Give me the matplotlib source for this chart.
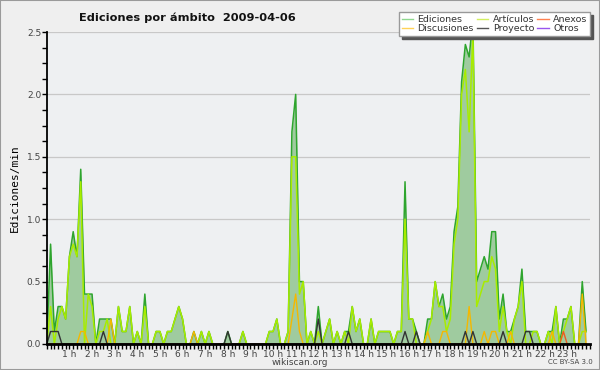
import numpy as np
import matplotlib
matplotlib.use('Agg')
import matplotlib.pyplot as plt
from matplotlib.patches import Rectangle
from matplotlib.lines import Line2D

# edits per minute, one value every 10 minutes (6 per hour)
ediciones = [
    0.0, 0.8, 0.1, 0.3, 0.3, 0.2,
    0.7, 0.9, 0.7, 1.4, 0.4, 0.4,
    0.4, 0.0, 0.2, 0.2, 0.2, 0.2,
    0.0, 0.3, 0.1, 0.1, 0.3, 0.0,
    0.1, 0.0, 0.4, 0.0, 0.0, 0.1,
    0.1, 0.0, 0.1, 0.1, 0.2, 0.3,
    0.2, 0.0, 0.0, 0.1, 0.0, 0.1,
    0.0, 0.1, 0.0, 0.0, 0.0, 0.0,
    0.1, 0.0, 0.0, 0.0, 0.1, 0.0,
    0.0, 0.0, 0.0, 0.0, 0.0, 0.1,
    0.1, 0.2, 0.0, 0.0, 0.1, 1.7,
    2.0, 0.5, 0.5, 0.0, 0.1, 0.0,
    0.3, 0.0, 0.1, 0.2, 0.0, 0.1,
    0.0, 0.1, 0.1, 0.3, 0.1, 0.2,
    0.0, 0.0, 0.2, 0.0, 0.1, 0.1,
    0.1, 0.1, 0.0, 0.1, 0.1, 1.3,
    0.2, 0.2, 0.1, 0.0, 0.0, 0.2,
    0.2, 0.5, 0.3, 0.4, 0.2, 0.3,
    0.9, 1.1, 2.1, 2.4, 2.3, 2.6,
    0.5, 0.6, 0.7, 0.6, 0.9, 0.9,
    0.2, 0.4, 0.1, 0.1, 0.2, 0.3,
    0.6, 0.1, 0.1, 0.1, 0.1, 0.0,
    0.0, 0.1, 0.1, 0.3, 0.0, 0.2,
    0.2, 0.3, 0.0, 0.0, 0.5, 0.1,
]
articulos = [
    0.0, 0.3, 0.0, 0.2, 0.3, 0.2,
    0.7, 0.8, 0.7, 1.3, 0.0, 0.4,
    0.3, 0.0, 0.1, 0.1, 0.2, 0.0,
    0.0, 0.3, 0.1, 0.1, 0.3, 0.0,
    0.1, 0.0, 0.3, 0.0, 0.0, 0.1,
    0.1, 0.0, 0.1, 0.1, 0.2, 0.3,
    0.2, 0.0, 0.0, 0.0, 0.0, 0.1,
    0.0, 0.1, 0.0, 0.0, 0.0, 0.0,
    0.0, 0.0, 0.0, 0.0, 0.1, 0.0,
    0.0, 0.0, 0.0, 0.0, 0.0, 0.1,
    0.1, 0.2, 0.0, 0.0, 0.1, 1.5,
    1.5, 0.4, 0.5, 0.0, 0.1, 0.0,
    0.1, 0.0, 0.1, 0.2, 0.0, 0.1,
    0.0, 0.1, 0.0, 0.3, 0.1, 0.2,
    0.0, 0.0, 0.2, 0.0, 0.1, 0.1,
    0.1, 0.1, 0.0, 0.1, 0.1, 1.0,
    0.2, 0.2, 0.0, 0.0, 0.0, 0.1,
    0.2, 0.5, 0.3, 0.3, 0.1, 0.2,
    0.8, 1.0, 2.0, 2.2, 1.7, 2.5,
    0.3, 0.4, 0.5, 0.5, 0.7, 0.6,
    0.1, 0.3, 0.1, 0.0, 0.2, 0.3,
    0.5, 0.0, 0.0, 0.1, 0.1, 0.0,
    0.0, 0.1, 0.0, 0.3, 0.0, 0.1,
    0.2, 0.3, 0.0, 0.0, 0.1, 0.1,
]
# sparse series: {slot index: value}
discusiones = {9: 0.1, 10: 0.1, 17: 0.2, 39: 0.1, 65: 0.2, 66: 0.4, 67: 0.1,
               101: 0.1, 105: 0.1, 106: 0.1, 112: 0.3, 116: 0.1, 118: 0.1,
               119: 0.1, 123: 0.1, 134: 0.1, 142: 0.4}
proyecto = {1: 0.1, 2: 0.1, 3: 0.1, 15: 0.1, 48: 0.1, 72: 0.2, 80: 0.1, 95: 0.1,
            98: 0.1, 111: 0.1, 113: 0.1, 121: 0.1, 127: 0.1, 128: 0.1}
anexos = {137: 0.1}
otros = {}

hour_labels = [f"{h} h" for h in range(1, 24)]

n = len(ediciones)
x = np.arange(n) / 6.0


def dense(sparse):
    out = np.zeros(n)
    for k, v in sparse.items():
        out[k] = v
    return out


bg = '#efefef'
fig = plt.figure(figsize=(6, 3.7), dpi=100, facecolor=bg)
fig.patches.append(Rectangle((0, 0), 1, 1, transform=fig.transFigure, fill=False,
                             edgecolor='#9a9a9a', linewidth=1.5))
ax = fig.add_axes([0.078, 0.0703, 0.905, 0.8432])
ax.set_facecolor('#eef0f2')

ax.fill_between(x, ediciones, color='#9fcb9f', linewidth=0)
ax.plot(x, ediciones, color='#2ea52e', lw=1.1)
ax.plot(x, articulos, color='#a8ec00', lw=1.1)
ax.plot(x, dense(discusiones), color='#f5b800', lw=1.0)
ax.plot(x, dense(anexos), color='#ee5a22', lw=1.0)
ax.plot(x, dense(proyecto), color='#333333', lw=1.0)

ax.set_xlim(0, 24)
ax.set_ylim(0, 2.5)
ax.set_xticks(range(1, 24))
ax.set_xticklabels(hour_labels)
ax.set_xticks(np.arange(0, 24.01, 1 / 6), minor=True)
ax.set_yticks([0, 0.5, 1.0, 1.5, 2.0, 2.5])
ax.set_yticklabels(['0.0', '0.5', '1.0', '1.5', '2.0', '2.5'])
ax.set_yticks(np.arange(0, 2.51, 0.125), minor=True)
ax.tick_params(axis='both', which='both', direction='out', length=3.5, width=1,
               color='black', labelsize=6.5, labelcolor='#444444', pad=0.5)
ax.grid(axis='y', which='major', color='#c8c8c8', lw=0.9)
ax.set_axisbelow(True)
for s in ['top', 'right']:
    ax.spines[s].set_visible(False)
ax.spines['left'].set_linewidth(1.3)
ax.spines['bottom'].set_linewidth(2)

ax.set_ylabel('Ediciones/min', family='DejaVu Sans Mono', fontsize=8, labelpad=5)

fig.text(0.312, 0.953, 'Ediciones por ámbito  2009-04-06', ha='center', va='center',
         fontsize=8.2, fontweight='bold', color='#111111')
fig.text(0.5, 0.021, 'wikiscan.org', ha='center', va='center', fontsize=6.5, color='#444444')
fig.text(0.95, 0.021, 'CC BY-SA 3.0', ha='center', va='center', fontsize=5, color='#444444')

handles = [
    Line2D([], [], color='#8fd88f', lw=1), Line2D([], [], color='#ffd257', lw=1),
    Line2D([], [], color='#d2ef60', lw=1), Line2D([], [], color='#555555', lw=1),
    Line2D([], [], color='#ff8050', lw=1), Line2D([], [], color='#9955ee', lw=1),
]
labels = ['Ediciones', 'Discusiones', 'Artículos', 'Proyecto', 'Anexos', 'Otros']
leg = fig.legend(handles, labels, ncol=3, loc='upper right', bbox_to_anchor=(0.992, 0.98),
                 fontsize=6.8, frameon=True, fancybox=False, shadow={'color': '#555555', 'alpha': 1},
                 handlelength=1.2, handletextpad=0.5, columnspacing=0.3, labelspacing=0.05,
                 borderpad=0.3, edgecolor='#999999', framealpha=1)
for t in leg.get_texts():
    t.set_color('#333333')

fig.savefig('out.png', dpi=100, facecolor=bg)
